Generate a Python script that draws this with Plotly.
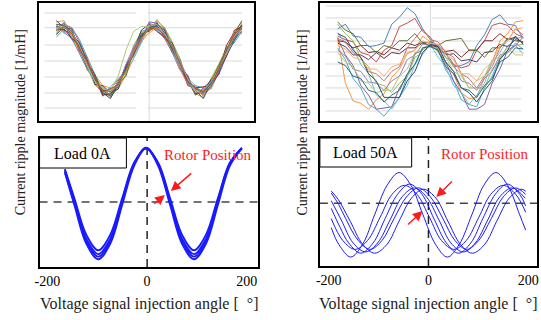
import plotly.graph_objects as go

FONT = "Liberation Serif, Times New Roman, serif"

# ---------------- data ----------------
ANGLE_TOP = [-180, -165, -150, -135, -120, -105, -90, -75, -60, -45, -30, -15, 0,
             15, 30, 45, 60, 75, 90, 105, 120, 135, 150, 165, 180]

# Top-left: current ripple magnitude, load 0A (normalised)
TL_1 = [0.80, 0.75, 0.70, 0.57, 0.44, 0.33, 0.27, 0.22, 0.29, 0.46, 0.55, 0.74, 0.79, 0.84, 0.72, 0.60, 0.50, 0.37, 0.24, 0.23, 0.33, 0.40, 0.61, 0.68, 0.82]
TL_2 = [0.74, 0.82, 0.79, 0.67, 0.52, 0.31, 0.24, 0.21, 0.34, 0.41, 0.61, 0.70, 0.83, 0.78, 0.70, 0.64, 0.45, 0.32, 0.29, 0.22, 0.28, 0.47, 0.56, 0.75, 0.75]
TL_3 = [0.84, 0.85, 0.72, 0.58, 0.51, 0.39, 0.30, 0.28, 0.27, 0.39, 0.53, 0.67, 0.75, 0.86, 0.78, 0.66, 0.46, 0.38, 0.23, 0.20, 0.35, 0.46, 0.54, 0.76, 0.84]
TL_4 = [0.71, 0.78, 0.79, 0.69, 0.54, 0.40, 0.25, 0.27, 0.35, 0.41, 0.63, 0.76, 0.78, 0.77, 0.77, 0.66, 0.53, 0.31, 0.30, 0.28, 0.27, 0.41, 0.63, 0.66, 0.76]
TL_5 = [0.79, 0.83, 0.69, 0.64, 0.43, 0.36, 0.21, 0.28, 0.29, 0.48, 0.56, 0.68, 0.84, 0.83, 0.70, 0.58, 0.43, 0.39, 0.22, 0.28, 0.34, 0.39, 0.55, 0.77, 0.80]
TL_6 = [0.82, 0.74, 0.76, 0.61, 0.46, 0.30, 0.29, 0.20, 0.28, 0.40, 0.64, 0.75, 0.76, 0.85, 0.79, 0.67, 0.52, 0.32, 0.27, 0.21, 0.36, 0.48, 0.62, 0.69, 0.83]
TL_7 = [0.76, 0.84, 0.71, 0.66, 0.44, 0.37, 0.23, 0.29, 0.36, 0.42, 0.53, 0.66, 0.81, 0.79, 0.76, 0.59, 0.43, 0.36, 0.30, 0.23, 0.28, 0.46, 0.56, 0.73, 0.74]
TL_8 = [0.85, 0.79, 0.78, 0.59, 0.50, 0.39, 0.22, 0.23, 0.33, 0.45, 0.58, 0.73, 0.77, 0.83, 0.73, 0.61, 0.50, 0.30, 0.28, 0.29, 0.30, 0.40, 0.64, 0.75, 0.81]
TL_9 = [0.77, 0.78, 0.70, 0.65, 0.52, 0.31, 0.30, 0.24, 0.27, 0.47, 0.59, 0.77, 0.82, 0.76, 0.71, 0.66, 0.48, 0.37, 0.23, 0.25, 0.35, 0.42, 0.55, 0.68, 0.78]
TL_10 = [0.73, 0.80, 0.75, 0.60, 0.45, 0.38, 0.26, 0.21, 0.32, 0.38, 0.60, 0.74, 0.76, 0.82, 0.78, 0.58, 0.51, 0.34, 0.22, 0.26, 0.33, 0.47, 0.60, 0.74, 0.85]
TL_11 = [0.81, 0.76, 0.73, 0.64, 0.54, 0.33, 0.26, 0.27, 0.35, 0.43, 0.62, 0.69, 0.80, 0.78, 0.79, 0.62, 0.44, 0.31, 0.28, 0.23, 0.29, 0.45, 0.57, 0.76, 0.76]
TL_12 = [0.78, 0.83, 0.77, 0.60, 0.47, 0.34, 0.28, 0.25, 0.30, 0.48, 0.63, 0.71, 0.83, 0.80, 0.74, 0.63, 0.51, 0.35, 0.24, 0.27, 0.31, 0.42, 0.61, 0.70, 0.79]
TL_13 = [0.78, 0.80, 0.75, 0.62, 0.48, 0.35, 0.27, 0.26, 0.38, 0.60, 0.76, 0.80, 0.80, 0.81, 0.75, 0.62, 0.48, 0.35, 0.26, 0.25, 0.31, 0.43, 0.58, 0.72, 0.80]
TL_14 = [0.80, 0.77, 0.74, 0.66, 0.49, 0.36, 0.24, 0.19, 0.31, 0.44, 0.57, 0.72, 0.79, 0.81, 0.75, 0.62, 0.47, 0.34, 0.26, 0.19, 0.32, 0.43, 0.59, 0.72, 0.81]
TL_15 = [0.76, 0.81, 0.73, 0.63, 0.47, 0.34, 0.27, 0.26, 0.30, 0.43, 0.58, 0.71, 0.74, 0.80, 0.74, 0.64, 0.49, 0.35, 0.25, 0.24, 0.30, 0.45, 0.57, 0.71, 0.77]
TL_16 = [0.82, 0.81, 0.76, 0.62, 0.49, 0.35, 0.26, 0.25, 0.31, 0.44, 0.57, 0.71, 0.80, 0.80, 0.77, 0.61, 0.48, 0.34, 0.27, 0.24, 0.32, 0.43, 0.58, 0.70, 0.79]
TL_17 = [0.79, 0.79, 0.75, 0.64, 0.48, 0.33, 0.28, 0.24, 0.33, 0.42, 0.59, 0.70, 0.80, 0.82, 0.74, 0.63, 0.47, 0.36, 0.26, 0.26, 0.33, 0.44, 0.58, 0.72, 0.78]
TL_18 = [0.77, 0.80, 0.74, 0.61, 0.50, 0.36, 0.25, 0.27, 0.31, 0.43, 0.57, 0.70, 0.78, 0.79, 0.72, 0.64, 0.49, 0.34, 0.28, 0.25, 0.29, 0.44, 0.60, 0.73, 0.80]
TL_CURVES = [TL_1, TL_2, TL_3, TL_4, TL_5, TL_6, TL_7, TL_8, TL_9, TL_10, TL_11, TL_12,
             TL_13, TL_14, TL_15, TL_16, TL_17, TL_18]

# Top-right: current ripple magnitude, load 50A (normalised)
TR_1 = [0.78, 0.82, 0.72, 0.71, 0.63, 0.64, 0.66, 0.82, 0.88, 0.96, 0.91, 0.78, 0.69, 0.60, 0.57, 0.46, 0.47, 0.50, 0.64, 0.73, 0.86, 0.90, 0.82, 0.81, 0.70]
TR_2 = [0.72, 0.69, 0.67, 0.58, 0.56, 0.50, 0.60, 0.64, 0.80, 0.83, 0.87, 0.76, 0.71, 0.61, 0.58, 0.48, 0.45, 0.47, 0.60, 0.68, 0.81, 0.83, 0.81, 0.74, 0.71]
TR_3 = [0.71, 0.32, 0.17, 0.15, 0.10, 0.18, 0.23, 0.37, 0.44, 0.57, 0.60, 0.72, 0.67, 0.62, 0.48, 0.40, 0.24, 0.19, 0.20, 0.37, 0.50, 0.68, 0.74, 0.84, 0.85]
TR_4 = [0.62, 0.52, 0.36, 0.28, 0.14, 0.10, 0.04, 0.12, 0.20, 0.38, 0.48, 0.62, 0.64, 0.60, 0.43, 0.34, 0.18, 0.14, 0.12, 0.28, 0.38, 0.54, 0.58, 0.66, 0.61]
TR_5 = [0.70, 0.56, 0.47, 0.30, 0.22, 0.10, 0.11, 0.12, 0.28, 0.38, 0.57, 0.60, 0.67, 0.58, 0.50, 0.34, 0.24, 0.10, 0.10, 0.14, 0.32, 0.44, 0.60, 0.64, 0.71]
TR_6 = [0.82, 0.74, 0.68, 0.53, 0.46, 0.32, 0.30, 0.24, 0.32, 0.38, 0.54, 0.58, 0.65, 0.60, 0.58, 0.46, 0.40, 0.28, 0.28, 0.28, 0.44, 0.52, 0.64, 0.64, 0.65]
TR_7 = [0.75, 0.66, 0.62, 0.48, 0.40, 0.22, 0.17, 0.10, 0.20, 0.30, 0.48, 0.56, 0.65, 0.54, 0.46, 0.30, 0.24, 0.14, 0.22, 0.32, 0.50, 0.58, 0.70, 0.70, 0.71]
TR_8 = [0.68, 0.67, 0.62, 0.64, 0.58, 0.59, 0.56, 0.62, 0.60, 0.66, 0.64, 0.67, 0.63, 0.64, 0.59, 0.60, 0.54, 0.60, 0.60, 0.68, 0.68, 0.74, 0.69, 0.71, 0.66]
TR_9 = [0.66, 0.63, 0.56, 0.56, 0.52, 0.58, 0.53, 0.58, 0.57, 0.62, 0.62, 0.66, 0.64, 0.63, 0.56, 0.57, 0.51, 0.52, 0.50, 0.58, 0.59, 0.65, 0.63, 0.69, 0.67]
TR_10 = [0.84, 0.77, 0.74, 0.64, 0.64, 0.58, 0.64, 0.62, 0.68, 0.68, 0.74, 0.66, 0.67, 0.64, 0.68, 0.69, 0.70, 0.60, 0.60, 0.54, 0.62, 0.62, 0.70, 0.68, 0.67]
TR_11 = [0.70, 0.67, 0.58, 0.54, 0.42, 0.40, 0.34, 0.42, 0.46, 0.62, 0.70, 0.78, 0.69, 0.67, 0.58, 0.54, 0.40, 0.36, 0.28, 0.38, 0.46, 0.62, 0.68, 0.78, 0.73]
TR_12 = [0.60, 0.55, 0.44, 0.42, 0.33, 0.32, 0.26, 0.34, 0.38, 0.52, 0.56, 0.65, 0.65, 0.64, 0.54, 0.48, 0.34, 0.32, 0.26, 0.36, 0.42, 0.56, 0.58, 0.64, 0.57]
TR_13 = [0.58, 0.50, 0.46, 0.34, 0.32, 0.24, 0.26, 0.26, 0.38, 0.44, 0.58, 0.60, 0.66, 0.58, 0.54, 0.42, 0.38, 0.28, 0.34, 0.38, 0.52, 0.54, 0.62, 0.56, 0.56]
TR_14 = [0.74, 0.71, 0.60, 0.54, 0.40, 0.34, 0.20, 0.20, 0.20, 0.34, 0.42, 0.58, 0.65, 0.63, 0.50, 0.42, 0.28, 0.24, 0.16, 0.26, 0.34, 0.52, 0.60, 0.72, 0.65]
TR_15 = [0.64, 0.61, 0.54, 0.52, 0.44, 0.44, 0.38, 0.46, 0.48, 0.58, 0.60, 0.68, 0.66, 0.65, 0.56, 0.52, 0.40, 0.40, 0.34, 0.44, 0.50, 0.64, 0.68, 0.78, 0.79]
TR_16 = [0.50, 0.47, 0.38, 0.36, 0.26, 0.24, 0.16, 0.22, 0.26, 0.40, 0.48, 0.62, 0.63, 0.60, 0.46, 0.40, 0.28, 0.26, 0.20, 0.30, 0.36, 0.50, 0.54, 0.62, 0.61]
TR_CURVES = [TR_1, TR_2, TR_3, TR_4, TR_5, TR_6, TR_7, TR_8, TR_9, TR_10, TR_11, TR_12, TR_13, TR_14, TR_15, TR_16]

EXCEL_COLORS = ['#4F81BD', '#C0504D', '#F79646', '#4BACC6', '#8064A2', '#9BBB59',
                '#6FBDD1', '#772C2A', '#4D3B62', '#5F7530', '#CD7371', '#9983B5',
                '#AFC97A', '#2C4D75', '#F9AB6B', '#276A7C', '#A5A5A5', '#B65708']

# Bottom-left: Load 0A (fitted curves)
BL_THETA = [-165, -146, -122, -98, -74, -50, -26, -2, 22, 46, 70, 94, 118, 142, 166, 190]
BL_1 = [0.76, 0.535, 0.25, 0.13, 0.25, 0.535, 0.81, 0.92, 0.81, 0.535, 0.25, 0.13, 0.25, 0.535, 0.81, 0.92]
BL_2 = [0.75, 0.52, 0.22, 0.10, 0.22, 0.52, 0.80, 0.92, 0.80, 0.52, 0.22, 0.10, 0.22, 0.52, 0.80, 0.92]
BL_3 = [0.74, 0.50, 0.20, 0.08, 0.20, 0.50, 0.80, 0.925, 0.80, 0.50, 0.20, 0.08, 0.20, 0.50, 0.80, 0.925]
BL_4 = [0.73, 0.48, 0.18, 0.06, 0.18, 0.48, 0.785, 0.92, 0.785, 0.48, 0.18, 0.06, 0.18, 0.48, 0.785, 0.92]
BL_CURVES = [BL_1, BL_2, BL_3, BL_4]

# Bottom-right: Load 50A (fitted curves)
BR_A_THETA = [-195, -180, -156, -132, -108, -83, -59, -35, -11, 14, 38, 62, 87, 111, 135, 159, 183, 195]
BR_A = [0.30, 0.17, 0.07, 0.17, 0.40, 0.63, 0.73, 0.63, 0.40, 0.17, 0.07, 0.17, 0.40, 0.63, 0.73, 0.63, 0.40, 0.28]
BR_B_THETA = [-195, -172, -147, -122, -97, -73, -48, -23, 2, 26, 51, 76, 101, 125, 150, 175, 195]
BR_B = [0.37, 0.20, 0.13, 0.20, 0.38, 0.56, 0.63, 0.56, 0.38, 0.20, 0.13, 0.20, 0.38, 0.56, 0.63, 0.56, 0.42]
BR_C_THETA = [-195, -177, -160, -136, -111, -87, -62, -38, -13, 11, 36, 60, 85, 109, 134, 158, 183, 195]
BR_C = [0.45, 0.30, 0.18, 0.10, 0.18, 0.37, 0.56, 0.64, 0.56, 0.37, 0.18, 0.10, 0.18, 0.37, 0.56, 0.64, 0.56, 0.47]
BR_D_THETA = [-195, -175, -151, -126, -102, -77, -53, -28, -4, 21, 45, 70, 94, 119, 143, 168, 194]
BR_D = [0.51, 0.36, 0.18, 0.11, 0.18, 0.36, 0.54, 0.61, 0.54, 0.36, 0.18, 0.11, 0.18, 0.36, 0.54, 0.61, 0.53]
BR_E_THETA = [-195, -180, -166, -141, -117, -93, -69, -44, -20, 4, 29, 53, 77, 101, 126, 150, 174, 195]
BR_E = [0.57, 0.48, 0.37, 0.20, 0.13, 0.20, 0.37, 0.54, 0.61, 0.54, 0.37, 0.20, 0.13, 0.20, 0.37, 0.54, 0.61, 0.56]
BR_F_THETA = [-195, -181, -157, -132, -108, -83, -59, -34, -10, 15, 39, 64, 88, 113, 137, 162, 186, 195]
BR_F = [0.585, 0.52, 0.35, 0.17, 0.10, 0.17, 0.35, 0.53, 0.60, 0.53, 0.35, 0.17, 0.10, 0.17, 0.35, 0.53, 0.60, 0.585]
BR_SERIES = [(BR_A_THETA, BR_A), (BR_B_THETA, BR_B), (BR_C_THETA, BR_C),
             (BR_D_THETA, BR_D), (BR_E_THETA, BR_E), (BR_F_THETA, BR_F)]

X_TICKS = [-200, 0, 200]
X_TICK_TEXT = ["-200", "0", "200"]
GRID_TL = [0.11, 0.237, 0.373, 0.508, 0.644, 0.79, 0.915]
GRID_TR = [0.085, 0.186, 0.28, 0.381, 0.483, 0.585, 0.678, 0.78, 0.873, 0.975]
REF_LEVEL_BL = 0.504
REF_LEVEL_BR = 0.49

# ---------------- figure ----------------
W, H = 541, 320
BLUE = '#1a1aff'
RED = '#ff1a1a'


def px(x):
    return x / W


def py(y):
    return 1 - y / H


fig = go.Figure()

for i, c in enumerate(TL_CURVES):
    fig.add_trace(go.Scatter(x=ANGLE_TOP, y=c, mode='lines', xaxis='x', yaxis='y',
                             line=dict(color=EXCEL_COLORS[i % len(EXCEL_COLORS)], width=1),
                             hoverinfo='skip'))
for i, c in enumerate(TR_CURVES):
    fig.add_trace(go.Scatter(x=ANGLE_TOP, y=c, mode='lines', xaxis='x2', yaxis='y2',
                             line=dict(color=EXCEL_COLORS[i % len(EXCEL_COLORS)], width=1),
                             hoverinfo='skip'))
for c in BL_CURVES:
    fig.add_trace(go.Scatter(x=BL_THETA, y=c, mode='lines', xaxis='x3', yaxis='y3',
                             line=dict(color=BLUE, width=1.8, shape='spline'),
                             hoverinfo='skip'))
for th, v in BR_SERIES:
    fig.add_trace(go.Scatter(x=th, y=v, mode='lines', xaxis='x4', yaxis='y4',
                             line=dict(color=BLUE, width=1, shape='spline'),
                             hoverinfo='skip'))

frame = dict(showline=True, mirror=True, linecolor='black', linewidth=2,
             showgrid=False, zeroline=False, ticks='', fixedrange=True)
top_y = [py(121), py(3)]
bot_y = [py(267), py(138)]

fig.update_layout(
    width=W, height=H, margin=dict(l=0, r=0, t=0, b=0),
    paper_bgcolor='white', plot_bgcolor='white', showlegend=False,
    font=dict(family=FONT, color='black', size=14),
    xaxis=dict(domain=[px(34), px(252)], range=[-214.5, 203], showticklabels=False, anchor='y', **frame),
    yaxis=dict(domain=top_y, range=[0, 1], showticklabels=False, anchor='x', **frame),
    xaxis2=dict(domain=[px(319), px(539)], range=[-214.5, 207], showticklabels=False, anchor='y2', **frame),
    yaxis2=dict(domain=top_y, range=[0, 1], showticklabels=False, anchor='x2', **frame),
    xaxis3=dict(domain=[px(35), px(256)], range=[-215.8, 221.8], tickvals=X_TICKS, ticktext=X_TICK_TEXT,
                tickfont=dict(size=14, family=FONT), anchor='y3', **frame),
    yaxis3=dict(domain=bot_y, range=[0, 1], showticklabels=False, anchor='x3', **frame),
    xaxis4=dict(domain=[px(319), px(539)], range=[-217.8, 217.8], tickvals=X_TICKS, ticktext=X_TICK_TEXT,
                tickfont=dict(size=14, family=FONT), anchor='y4', **frame),
    yaxis4=dict(domain=[py(266), py(138)], range=[0, 1], showticklabels=False, anchor='x4', **frame),
)

shapes = []
# light gridlines of the top (spreadsheet) charts
for g in GRID_TL:
    for a, b in [(0.0275, 0.454), (0.509, 0.945)]:
        shapes.append(dict(type='line', xref='x domain', yref='y', x0=a, x1=b, y0=g, y1=g,
                           line=dict(color='#d9d9d9', width=1), layer='below'))
shapes.append(dict(type='line', xref='x', yref='y domain', x0=0, x1=0, y0=0, y1=1,
                   line=dict(color='#d9d9d9', width=1), layer='below'))
for g in GRID_TR:
    for a, b in [(0.027, 0.468), (0.514, 0.927)]:
        shapes.append(dict(type='line', xref='x2 domain', yref='y2', x0=a, x1=b, y0=g, y1=g,
                           line=dict(color='#d9d9d9', width=1), layer='below'))
shapes.append(dict(type='line', xref='x2', yref='y2 domain', x0=0, x1=0, y0=0, y1=1,
                   line=dict(color='#d9d9d9', width=1), layer='below'))
# dashed reference lines
for xr, yr, lvl in [('x3', 'y3', REF_LEVEL_BL), ('x4', 'y4', REF_LEVEL_BR)]:
    shapes.append(dict(type='line', xref=xr, yref=yr + ' domain', x0=0, x1=0, y0=0, y1=1,
                       line=dict(color='#222222', width=1.5, dash='8px,6px'), layer='below'))
    shapes.append(dict(type='line', xref=xr + ' domain', yref=yr, x0=0, x1=1, y0=lvl, y1=lvl,
                       line=dict(color='#444444', width=1.5, dash='8px,6px'), layer='below'))
# label boxes
shapes.append(dict(type='rect', xref='paper', yref='paper', x0=px(35), x1=px(123), y0=py(168), y1=py(138),
                   fillcolor='white', line=dict(color='black', width=1)))
shapes.append(dict(type='rect', xref='paper', yref='paper', x0=px(319), x1=px(412), y0=py(167), y1=py(138),
                   fillcolor='white', line=dict(color='black', width=1)))
fig.update_layout(shapes=shapes)

ann = []
ann.append(dict(text='Load 0A', x=px(79), y=py(153), xref='paper', yref='paper', showarrow=False,
                font=dict(size=16, family=FONT, color='black'), xanchor='center', yanchor='middle'))
ann.append(dict(text='Load 50A', x=px(365.5), y=py(152.5), xref='paper', yref='paper', showarrow=False,
                font=dict(size=16, family=FONT, color='black'), xanchor='center', yanchor='middle'))
ann.append(dict(text='Rotor Position', x=px(205.5), y=py(155), xref='paper', yref='paper', showarrow=False,
                font=dict(size=15, family=FONT, color=RED), xanchor='center', yanchor='middle'))
ann.append(dict(text='Rotor Position', x=px(486), y=py(154), xref='paper', yref='paper', showarrow=False,
                font=dict(size=15, family=FONT, color=RED), xanchor='center', yanchor='middle'))
# arrows
for xr, yr, hx, hy, axo, ayo in [('x3', 'y3', 47.5, 0.589, 22, -19), ('x3', 'y3', 35.6, 0.558, -12, 10),
                                 ('x4', 'y4', 15.8, 0.539, 17, -17), ('x4', 'y4', -11.9, 0.43, -16, 15)]:
    ann.append(dict(x=hx, y=hy, xref=xr, yref=yr, ax=axo, ay=ayo, axref='pixel', ayref='pixel',
                    text='', showarrow=True, arrowhead=2, arrowsize=1.3, arrowwidth=1.5,
                    arrowcolor=RED))
# axis titles
for cx in [16, 301]:
    ann.append(dict(text='Current ripple magnitude [1/mH]', x=px(cx), y=py(122.5), xref='paper', yref='paper',
                    showarrow=False, textangle=-90, font=dict(size=14, family=FONT, color='#222222'),
                    xanchor='center', yanchor='middle'))
for cx in [146, 429]:
    ann.append(dict(text='Voltage signal injection angle [  °]', x=px(cx), y=py(304), xref='paper', yref='paper',
                    showarrow=False, font=dict(size=16, family=FONT, color='#222222'),
                    xanchor='center', yanchor='middle'))
fig.update_layout(annotations=ann)

fig.write_html("out.html", config={'displayModeBar': False, 'staticPlot': True},
               post_script="document.body.style.margin='0';document.body.style.overflow='hidden';")
